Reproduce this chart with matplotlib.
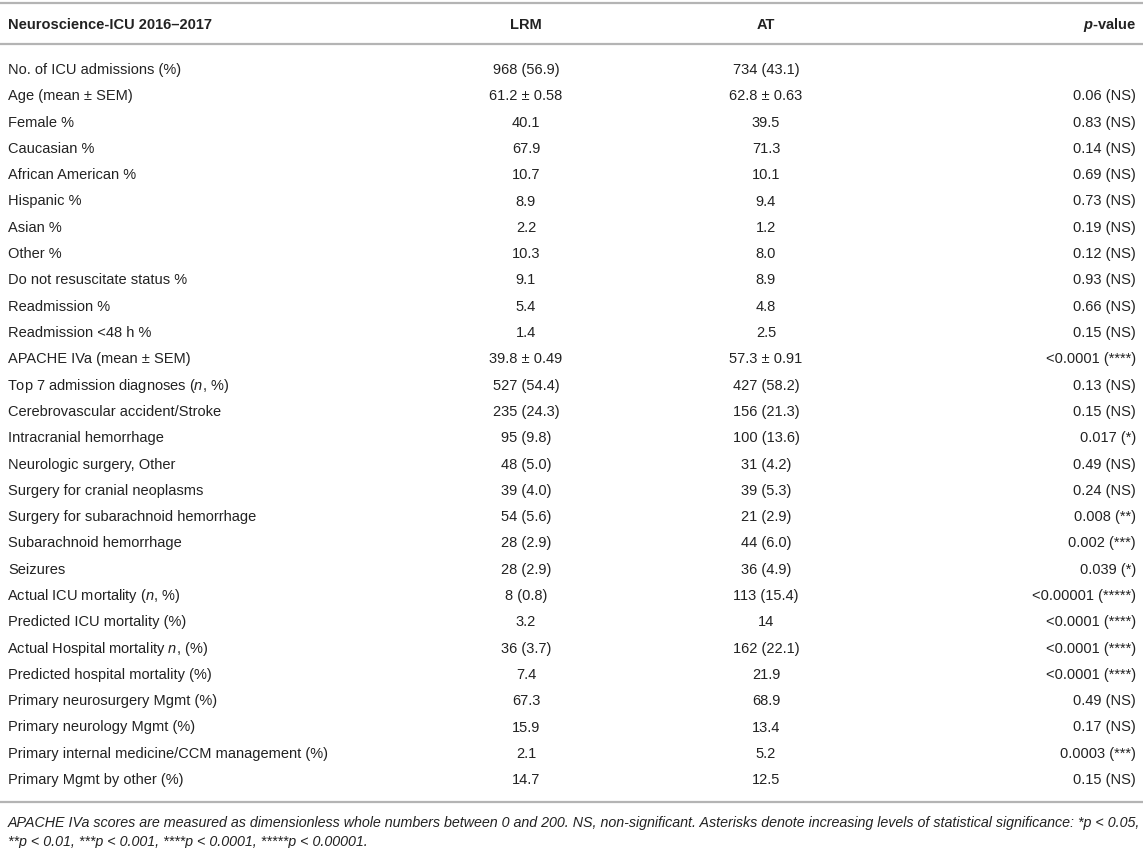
import matplotlib
matplotlib.use("Agg")
import matplotlib.pyplot as plt

plt.rcParams['font.family'] = ['Liberation Sans', 'DejaVu Sans']
plt.rcParams['mathtext.fontset'] = 'custom'
plt.rcParams['mathtext.rm'] = 'Liberation Sans'
plt.rcParams['mathtext.it'] = 'Liberation Sans:italic'
plt.rcParams['mathtext.bf'] = 'Liberation Sans:bold'
plt.rcParams['mathtext.bfit'] = 'Liberation Sans:italic:bold'

headers = ["Neuroscience-ICU 2016\u20132017", "LRM", "AT", r"$\mathbfit{p}$-value"]

row_labels = [
    "No. of ICU admissions (%)",
    "Age (mean \u00b1 SEM)",
    "Female %",
    "Caucasian %",
    "African American %",
    "Hispanic %",
    "Asian %",
    "Other %",
    "Do not resuscitate status %",
    "Readmission %",
    "Readmission <48 h %",
    "APACHE IVa (mean \u00b1 SEM)",
    r"Top 7 admission diagnoses ($\mathit{n}$, %)",
    "Cerebrovascular accident/Stroke",
    "Intracranial hemorrhage",
    "Neurologic surgery, Other",
    "Surgery for cranial neoplasms",
    "Surgery for subarachnoid hemorrhage",
    "Subarachnoid hemorrhage",
    "Seizures",
    r"Actual ICU mortality ($\mathit{n}$, %)",
    "Predicted ICU mortality (%)",
    r"Actual Hospital mortality $\mathit{n}$, (%)",
    "Predicted hospital mortality (%)",
    "Primary neurosurgery Mgmt (%)",
    "Primary neurology Mgmt (%)",
    "Primary internal medicine/CCM management (%)",
    "Primary Mgmt by other (%)",
]

lrm = [
    "968 (56.9)", "61.2 \u00b1 0.58", "40.1", "67.9", "10.7", "8.9", "2.2", "10.3",
    "9.1", "5.4", "1.4", "39.8 \u00b1 0.49", "527 (54.4)", "235 (24.3)", "95 (9.8)",
    "48 (5.0)", "39 (4.0)", "54 (5.6)", "28 (2.9)", "28 (2.9)", "8 (0.8)", "3.2",
    "36 (3.7)", "7.4", "67.3", "15.9", "2.1", "14.7",
]

at = [
    "734 (43.1)", "62.8 \u00b1 0.63", "39.5", "71.3", "10.1", "9.4", "1.2", "8.0",
    "8.9", "4.8", "2.5", "57.3 \u00b1 0.91", "427 (58.2)", "156 (21.3)", "100 (13.6)",
    "31 (4.2)", "39 (5.3)", "21 (2.9)", "44 (6.0)", "36 (4.9)", "113 (15.4)", "14",
    "162 (22.1)", "21.9", "68.9", "13.4", "5.2", "12.5",
]

pvals = [
    "", "0.06 (NS)", "0.83 (NS)", "0.14 (NS)", "0.69 (NS)", "0.73 (NS)", "0.19 (NS)",
    "0.12 (NS)", "0.93 (NS)", "0.66 (NS)", "0.15 (NS)", "<0.0001 (****)", "0.13 (NS)",
    "0.15 (NS)", "0.017 (*)", "0.49 (NS)", "0.24 (NS)", "0.008 (**)", "0.002 (***)",
    "0.039 (*)", "<0.00001 (*****)", "<0.0001 (****)", "<0.0001 (****)",
    "<0.0001 (****)", "0.49 (NS)", "0.17 (NS)", "0.0003 (***)", "0.15 (NS)",
]

footnote = [
    "APACHE IVa scores are measured as dimensionless whole numbers between 0 and 200. NS, non-significant. "
    "Asterisks denote increasing levels of statistical significance: *p < 0.05,",
    "**p < 0.01, ***p < 0.001, ****p < 0.0001, *****p < 0.00001.",
]

W, H = 1143, 848
fig = plt.figure(figsize=(W / 100, H / 100), dpi=100)
ax = fig.add_axes([0, 0, 1, 1])
ax.set_xlim(0, W)
ax.set_ylim(H, 0)
ax.axis('off')

txt = '#222222'
rule = '#b4b4b4'
fs = 10.5

x_label, x_lrm, x_at, x_p = 8, 526, 766, 1136
y_head = 25
y0, dy = 70, 26.3

for y in (3, 43.5):
    ax.axhline(y, color=rule, lw=1.6)

ax.text(x_label, y_head, headers[0], ha='left', va='center', fontsize=fs, fontweight='bold', color=txt)
ax.text(x_lrm, y_head, headers[1], ha='center', va='center', fontsize=fs, fontweight='bold', color=txt)
ax.text(x_at, y_head, headers[2], ha='center', va='center', fontsize=fs, fontweight='bold', color=txt)
ax.text(x_p, y_head, headers[3], ha='right', va='center', fontsize=fs, fontweight='bold', color=txt)

for i, (lab, a, b, p) in enumerate(zip(row_labels, lrm, at, pvals)):
    y = y0 + i * dy
    xl = x_label - (1 if '$' in lab else 0)
    ax.text(xl, y, lab, ha='left', va='center', fontsize=fs, color=txt)
    ax.text(x_lrm, y, a, ha='center', va='center', fontsize=fs, color=txt)
    ax.text(x_at, y, b, ha='center', va='center', fontsize=fs, color=txt)
    if p:
        ax.text(x_p, y, p, ha='right', va='center', fontsize=fs, color=txt)

y_bottom = y0 + (len(row_labels) - 1) * dy + 22
ax.axhline(y_bottom, color=rule, lw=1.6)

for j, line in enumerate(footnote):
    ax.text(x_label, y_bottom + 20.5 + j * 19.5, line, ha='left', va='center', fontsize=10.3,
            style='italic', color=txt)

fig.savefig('out.png', dpi=100)
